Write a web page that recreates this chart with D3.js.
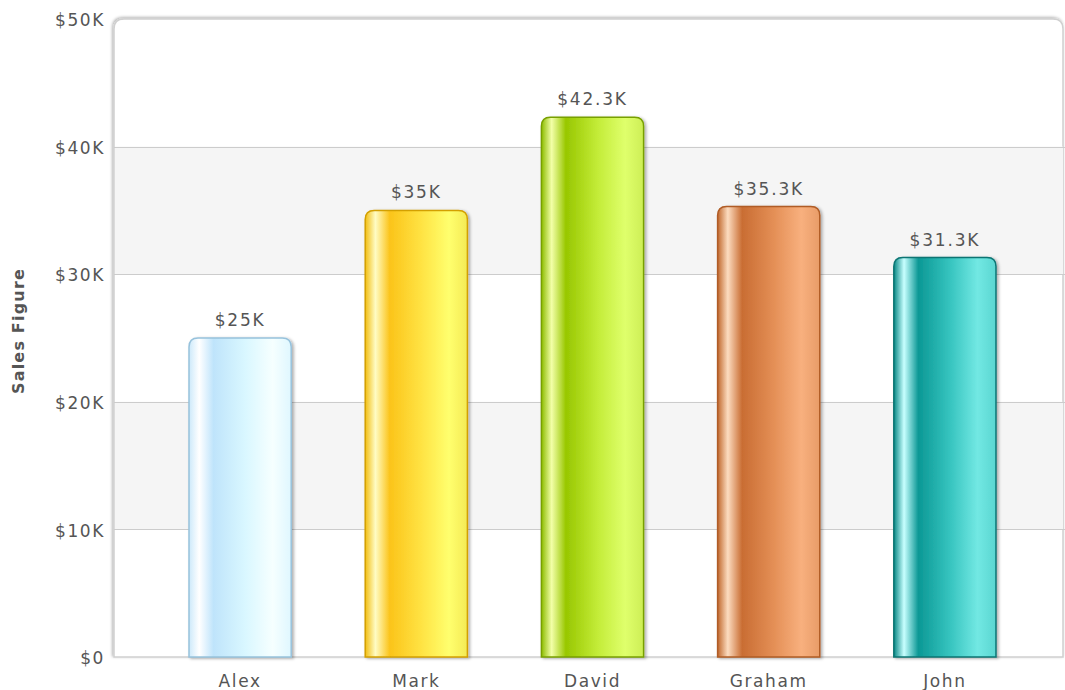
<!DOCTYPE html>
<html>
<head>
<meta charset="utf-8">
<script src="https://cdn.jsdelivr.net/npm/d3@7"></script>
<style>
  html, body { margin: 0; padding: 0; background: #ffffff; }
  svg { display: block; }
  text { font-family: "DejaVu Sans", Verdana, sans-serif; fill: #555555; }
</style>
</head>
<body>
<svg id="chart" width="1065" height="690"></svg>
<script>
// ---- Data ----
const categories = ["Alex", "Mark", "David", "Graham", "John"];
const sales = [25000, 35000, 42300, 35300, 31300];
const valueLabels = ["$25K", "$35K", "$42.3K", "$35.3K", "$31.3K"];
const yTicks = [0, 10000, 20000, 30000, 40000, 50000];
const yTickLabels = ["$0", "$10K", "$20K", "$30K", "$40K", "$50K"];
const yTitle = "Sales Figure";

// ---- Styles ----
const palettes = [
  { border: "#97c2dc", stops: ["#cde9fa", "#ffffff", "#bfe4fb", "#d9f7ff", "#f6ffff", "#dff7ff"] },
  { border: "#d3a000", stops: ["#f2be12", "#fffcc4", "#fbc41a", "#ffe343", "#ffff6e", "#f4ea55"] },
  { border: "#78a000", stops: ["#8cbc00", "#f3ffa8", "#98c700", "#c3ec38", "#dfff6c", "#cdee55"] },
  { border: "#b05c25", stops: ["#c0672c", "#fcdcc0", "#c96d33", "#e48f56", "#f8b07e", "#e89c68"] },
  { border: "#0a7573", stops: ["#078784", "#c8ffff", "#0b9895", "#36c4bf", "#72e8e3", "#5ad6d1"] }
];
const stopOffsets = ["0%", "10%", "24%", "55%", "82%", "100%"];

const svg = d3.select("#chart");
const W = 1065, H = 690;
const plot = { left: 114, right: 1063, top: 19, bottom: 657 };

const y = d3.scaleLinear().domain([0, 50000]).range([plot.bottom, plot.top]);
const x = d3.scaleBand().domain(categories).range([152, 1033]).paddingInner(0.42).paddingOuter(0.21);

const defs = svg.append("defs");
const frameShadow = defs.append("filter").attr("id", "frameShadow")
  .attr("x", "-5%").attr("y", "-5%").attr("width", "110%").attr("height", "110%");
frameShadow.append("feDropShadow").attr("dx", -1).attr("dy", -1).attr("stdDeviation", 1.8)
  .attr("flood-color", "#000").attr("flood-opacity", 0.32);

const barShadow = defs.append("filter").attr("id", "barShadow")
  .attr("x", "-20%").attr("y", "-5%").attr("width", "140%").attr("height", "110%");
barShadow.append("feDropShadow").attr("dx", 2).attr("dy", 1).attr("stdDeviation", 1.5)
  .attr("flood-color", "#000").attr("flood-opacity", 0.3);

const lineShadow = defs.append("filter").attr("id", "lineShadow")
  .attr("x", "-5%").attr("y", "-200%").attr("width", "110%").attr("height", "500%");
lineShadow.append("feDropShadow").attr("dx", 0).attr("dy", 1.5).attr("stdDeviation", 1.2)
  .attr("flood-color", "#000").attr("flood-opacity", 0.3);

palettes.forEach((p, i) => {
  const g = defs.append("linearGradient").attr("id", "grad" + i)
    .attr("x1", "0%").attr("x2", "100%").attr("y1", "0%").attr("y2", "0%");
  p.stops.forEach((c, j) => g.append("stop").attr("offset", stopOffsets[j]).attr("stop-color", c));
});

// ---- Plot frame ----
const r = 10;
svg.append("path")
  .attr("d", `M${plot.left},${plot.bottom} L${plot.left},${plot.top + r} Q${plot.left},${plot.top} ${plot.left + r},${plot.top} L${plot.right - r},${plot.top} Q${plot.right},${plot.top} ${plot.right},${plot.top + r} L${plot.right},${plot.bottom} Z`)
  .attr("fill", "#ffffff")
  .attr("stroke", "#d0d0d0")
  .attr("stroke-width", 1.5)
  .attr("filter", "url(#frameShadow)");

// alternate bands
const bandPairs = [[10000, 20000], [30000, 40000]];
svg.append("g").selectAll("rect").data(bandPairs).join("rect")
  .attr("x", plot.left + 1)
  .attr("width", plot.right - plot.left - 1)
  .attr("y", d => y(d[1]))
  .attr("height", d => y(d[0]) - y(d[1]))
  .attr("fill", "#f5f5f5");

// gridlines
svg.append("g").selectAll("line").data(yTicks.filter(v => v > 0 && v < 50000)).join("line")
  .attr("x1", plot.left).attr("x2", plot.right + 2)
  .attr("y1", d => Math.round(y(d)) + 0.5).attr("y2", d => Math.round(y(d)) + 0.5)
  .attr("stroke", "#cccccc").attr("stroke-width", 1);

// y tick labels
svg.append("g").selectAll("text").data(yTicks).join("text")
  .attr("x", 105)
  .attr("y", d => y(d))
  .attr("dy", "0.42em")
  .attr("text-anchor", "end")
  .style("font-size", "17px")
  .style("letter-spacing", "1.6px")
  .text((d, i) => yTickLabels[i]);

// y title
svg.append("text")
  .attr("transform", `translate(24,331) rotate(-90)`)
  .attr("text-anchor", "middle")
  .style("font-size", "16px")
  .style("font-weight", "bold")
  .style("letter-spacing", "1.2px")
  .text(yTitle);

// ---- Bars ----
function barPath(x0, w, yTop, yBot, rad) {
  const p = d3.path();
  p.moveTo(x0, yBot);
  p.lineTo(x0, yTop + rad);
  p.quadraticCurveTo(x0, yTop, x0 + rad, yTop);
  p.lineTo(x0 + w - rad, yTop);
  p.quadraticCurveTo(x0 + w, yTop, x0 + w, yTop + rad);
  p.lineTo(x0 + w, yBot);
  p.closePath();
  return p.toString();
}

const bars = svg.append("g");
bars.selectAll("path").data(sales).join("path")
  .attr("d", (d, i) => barPath(x(categories[i]), x.bandwidth(), y(d), y(0), 9))
  .attr("fill", (d, i) => `url(#grad${i})`)
  .attr("stroke", (d, i) => palettes[i].border)
  .attr("stroke-width", 1.5)
  .attr("filter", "url(#barShadow)");

// bottom axis line
svg.append("line")
  .attr("x1", plot.left).attr("x2", W)
  .attr("y1", plot.bottom + 0.5).attr("y2", plot.bottom + 0.5)
  .attr("stroke", "#b5b5b5").attr("stroke-width", 1.5)
  .attr("filter", "url(#lineShadow)");

// value labels
svg.append("g").selectAll("text").data(sales).join("text")
  .attr("x", (d, i) => x(categories[i]) + x.bandwidth() / 2)
  .attr("y", d => y(d) - 12)
  .attr("text-anchor", "middle")
  .style("font-size", "17px")
  .style("letter-spacing", "1.8px")
  .text((d, i) => valueLabels[i]);

// x labels
svg.append("g").selectAll("text").data(categories).join("text")
  .attr("x", d => x(d) + x.bandwidth() / 2)
  .attr("y", 687)
  .attr("text-anchor", "middle")
  .style("font-size", "17px")
  .style("letter-spacing", "1.6px")
  .text(d => d);
</script>
</body>
</html>
